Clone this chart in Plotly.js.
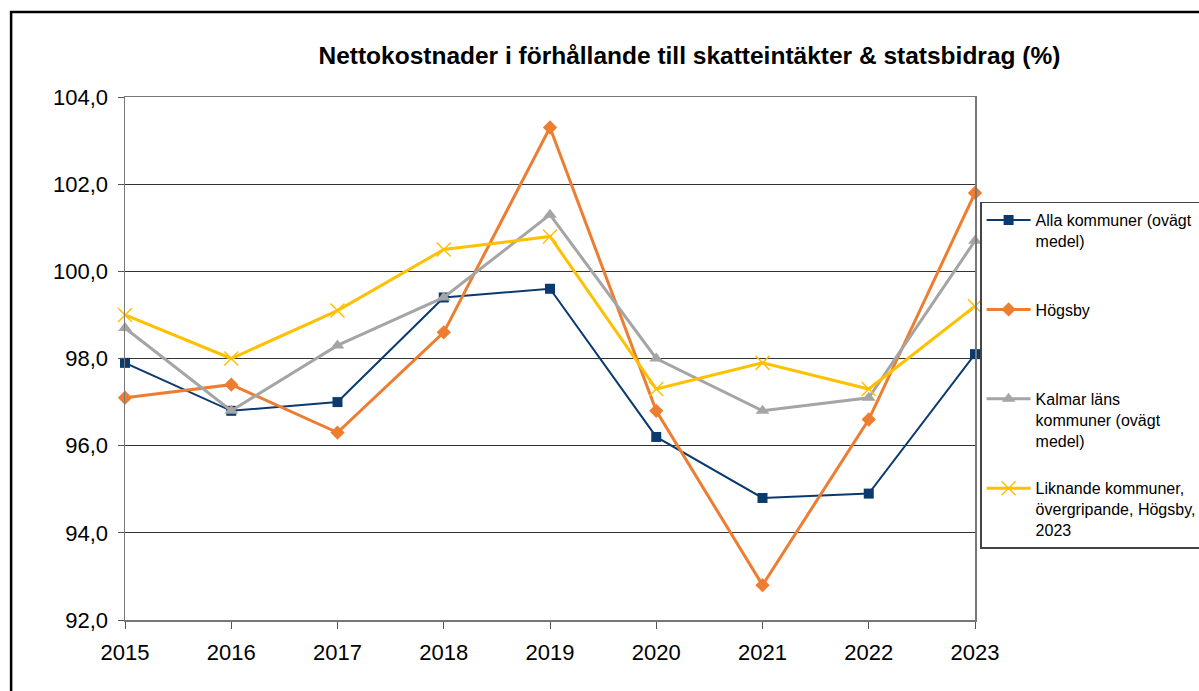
<!DOCTYPE html>
<html>
<head>
<meta charset="utf-8">
<script src="https://cdn.plot.ly/plotly-3.0.1.min.js"></script>
<style>
html,body{margin:0;padding:0;background:#fff;}
#chart{width:1199px;height:691px;}
</style>
</head>
<body>
<div id="chart"></div>
<script>
const years = [2015, 2016, 2017, 2018, 2019, 2020, 2021, 2022, 2023];
const allaKommuner = [97.9, 96.8, 97.0, 99.4, 99.6, 96.2, 94.8, 94.9, 98.1];
const hogsby = [97.1, 97.4, 96.3, 98.6, 103.3, 96.8, 92.8, 96.6, 101.8];
const kalmarLan = [98.7, 96.8, 98.3, 99.4, 101.3, 98.0, 96.8, 97.1, 100.7];
const liknande = [99.0, 98.0, 99.1, 100.5, 100.8, 97.3, 97.9, 97.3, 99.2];

const seriesNames = [
  'Alla kommuner (ovägt<br>medel)<br>\u00a0',
  'Högsby<br>\u00a0<br>\u00a0',
  'Kalmar läns<br>kommuner (ovägt<br>medel)',
  'Liknande kommuner,<br>övergripande, Högsby,<br>2023'
];
const yTicks = [92, 94, 96, 98, 100, 102, 104];

const font = 'Liberation Sans, Arial, sans-serif';

const traces = [
  {x: years, y: allaKommuner, name: seriesNames[0], legendgroup: 'a',
   mode: 'lines+markers', cliponaxis: false,
   line: {color: '#0B3A6E', width: 2},
   marker: {symbol: 'square', size: 10, color: '#0B3A6E'}},
  {x: years, y: hogsby, name: seriesNames[1], legendgroup: 'b',
   mode: 'lines+markers', cliponaxis: false,
   line: {color: '#ED7D31', width: 3},
   marker: {symbol: 'diamond', size: 11, color: '#ED7D31'}},
  {x: years, y: kalmarLan, name: seriesNames[2], legendgroup: 'c',
   mode: 'lines+markers', cliponaxis: false,
   line: {color: '#A5A5A5', width: 3},
   marker: {symbol: 'triangle-up', size: 12, color: '#A5A5A5'}},
  {x: years, y: liknande, name: seriesNames[3], legendgroup: 'd',
   mode: 'lines+markers', cliponaxis: false,
   line: {color: '#FFC000', width: 3},
   marker: {symbol: 'x-thin-open', size: 14, color: '#FFC000', line: {color: '#FFC000', width: 1.5}}}
];

const layout = {
  width: 1199, height: 691,
  margin: {l: 125, r: 224, t: 97, b: 71, autoexpand: false},
  paper_bgcolor: '#ffffff', plot_bgcolor: '#ffffff',
  separators: ',.',
  font: {family: font, color: '#000', size: 16},
  title: {
    text: '<b>Nettokostnader i förhållande till skatteintäkter & statsbidrag (%)</b>',
    font: {family: font, size: 24.5, color: '#000'},
    x: 0.575, xref: 'container', xanchor: 'center',
    y: 0.92, yref: 'container', yanchor: 'middle'
  },
  xaxis: {
    type: 'linear', range: [2015, 2023], tickvals: years, ticktext: years.map(String),
    showgrid: false, zeroline: false,
    showline: true, linecolor: '#777', linewidth: 1.5, mirror: true,
    ticks: 'outside', ticklen: 7, tickcolor: '#555', tickwidth: 1,
    ticklabelstandoff: 5,
    tickfont: {family: font, size: 22, color: '#000'}
  },
  yaxis: {
    range: [92, 104], tickvals: yTicks, tickformat: '.1f',
    showgrid: true, gridcolor: '#333', gridwidth: 1, zeroline: false,
    showline: true, linecolor: '#777', linewidth: 1.5, mirror: true,
    ticks: 'outside', ticklen: 6, tickcolor: '#555', tickwidth: 1,
    ticklabelstandoff: 5,
    tickfont: {family: font, size: 22, color: '#000'}
  },
  legend: {
    x: 1.006, xanchor: 'left', y: 0.8, yanchor: 'top',
    bgcolor: '#ffffff', bordercolor: '#444', borderwidth: 1.5,
    font: {family: font, size: 16, color: '#000'},
    valign: 'top', tracegroupgap: 24, itemwidth: 44
  },
  shapes: [
    {type: 'rect', xref: 'paper', yref: 'paper',
     x0: -0.134, x1: 1.6, y0: -0.5, y1: 1.1625,
     line: {color: '#000', width: 2.5}, fillcolor: 'rgba(0,0,0,0)', layer: 'below'}
  ],
  showlegend: true
};

Plotly.newPlot('chart', traces, layout, {displayModeBar: false, staticPlot: true});
</script>
</body>
</html>
